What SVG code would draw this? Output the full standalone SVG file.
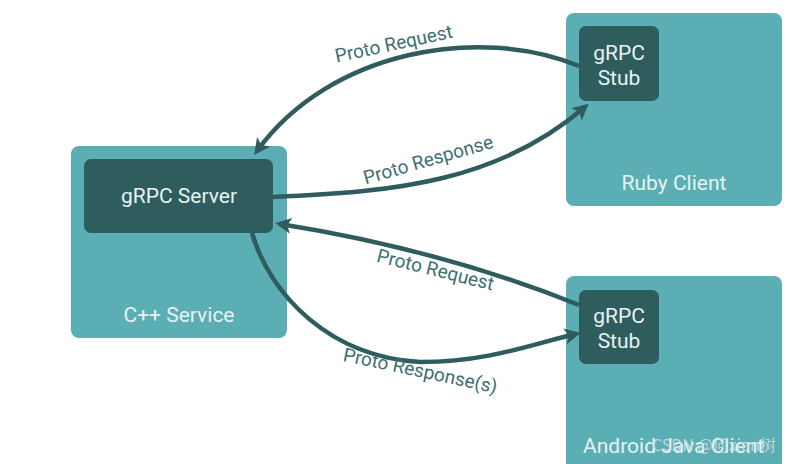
<svg xmlns="http://www.w3.org/2000/svg" width="790" height="464" viewBox="0 0 790 464">
<defs>
<style>
.outer{fill:#5aaeb4}
.inner{fill:#2f5c5d}
.t{font-family:Roboto,"Liberation Sans",sans-serif;fill:#e6f3f3;text-anchor:middle;font-size:21px}
.lbl{font-family:Roboto,"Liberation Sans",sans-serif;fill:#3d6f72;font-size:19px;text-anchor:middle}
.c{fill:none;stroke:#2f5c5d;stroke-width:4.5;marker-end:url(#ah)}
</style>
<marker id="ah" viewBox="0 0 10 10" refX="7" refY="5" markerWidth="3.6" markerHeight="3.6" orient="auto" markerUnits="strokeWidth">
<path d="M0,0 L10,5 L0,10 L2.5,5 z" fill="#2f5c5d"/>
</marker>
</defs>
<rect width="790" height="464" fill="#ffffff"/>
<g id="cpp-service">
<rect class="outer" x="71" y="146" width="216" height="192" rx="8"/>
<text class="t" x="179" y="322">C++ Service</text>
</g>
<g id="grpc-server">
<rect class="inner" x="84" y="159" width="189" height="74" rx="7"/>
<text class="t" x="179" y="203">gRPC Server</text>
</g>
<g id="ruby-client">
<rect class="outer" x="566" y="13" width="216" height="193" rx="8"/>
<text class="t" x="674" y="190">Ruby Client</text>
</g>
<g id="ruby-stub">
<rect class="inner" x="579" y="26" width="80" height="75" rx="7"/>
<text class="t" x="619" y="60">gRPC</text>
<text class="t" x="619" y="85">Stub</text>
</g>
<g id="android-client">
<rect class="outer" x="566" y="276" width="216" height="200" rx="8"/>
<text class="t" x="583" y="453" style="text-anchor:start">Android Java Client</text>
</g>
<g id="android-stub">
<rect class="inner" x="579" y="290" width="80" height="74" rx="7"/>
<text class="t" x="619" y="323">gRPC</text>
<text class="t" x="619" y="348">Stub</text>
</g>
<g id="connectors">
<path class="c" d="M579,66 C480,25 330,50 257,151"/>
<path class="c" d="M273,197 C400,192 500,180 585,107"/>
<path class="c" d="M579,305 C480,265 380,240 280,224"/>
<path class="c" d="M252,233 C270,295 330,357 420,362 C490,362 535,343 576,334"/>
</g>
<g id="labels">
<text class="lbl" transform="translate(395,50) rotate(-12)">Proto Request</text>
<text class="lbl" transform="translate(430,166) rotate(-16)">Proto Response</text>
<text class="lbl" transform="translate(434,276) rotate(14)">Proto Request</text>
<text class="lbl" transform="translate(419,377) rotate(12)">Proto Response(s)</text>
</g>
<text x="652" y="451" font-family="'Noto Sans CJK SC',sans-serif" font-size="16" fill="#cfe0e2" fill-opacity="0.85">CSDN @何xian树</text>
</svg>
